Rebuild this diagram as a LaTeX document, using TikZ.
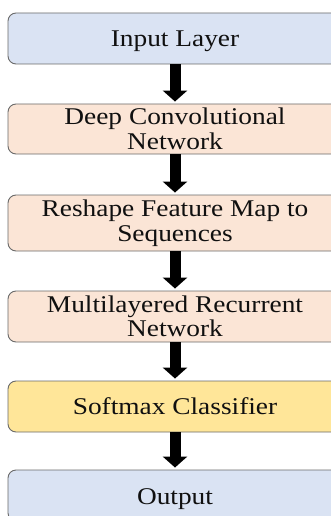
\documentclass[tikz,border=0pt]{standalone}
\usepackage{fontspec}
\newfontfamily\boxfont[FakeStretch=1.14]{Liberation Serif}
\usetikzlibrary{arrows.meta}
\definecolor{boxblue}{HTML}{DAE3F3}
\definecolor{boxpeach}{HTML}{FBE5D6}
\definecolor{boxyellow}{HTML}{FFE699}
\definecolor{boxline}{HTML}{6A6A6A}
\definecolor{txt}{HTML}{101010}
\begin{document}
\begin{tikzpicture}[x=1pt,y=1pt,
  layerbox/.style={draw=boxline, line width=0.9pt, rounded corners=8pt,
    minimum width=334pt, inner sep=0pt, align=center, text=txt,
    font=\boxfont\fontsize{24}{24.5}\selectfont},
  oneline/.style={text height=17pt, text depth=0pt},
  flowarrow/.style={line width=11pt, -{Triangle[width=24pt,length=11pt]}, shorten >=2pt}]
\useasboundingbox (0,0) rectangle (331,-516);
\node[layerbox, oneline, fill=boxblue, minimum height=51pt] (in) at (175,-38.5) {Input Layer};
\node[layerbox, fill=boxpeach, minimum height=50pt] (dcn) at (175,-129) {Deep Convolutional\\Network};
\node[layerbox, fill=boxpeach, minimum height=56pt] (rs) at (175,-223) {Reshape Feature Map to\\Sequences};
\node[layerbox, fill=boxpeach, minimum height=51pt] (mrn) at (175,-316.5) {Multilayered Recurrent\\Network};
\node[layerbox, fill=boxyellow, minimum height=51pt] (sm) at (175,-406.5) {Softmax Classifier};
\node[layerbox, oneline, fill=boxblue, minimum height=51pt] (out) at (175,-495.5) {Output};
\draw[flowarrow] (in.south) -- (dcn.north);
\draw[flowarrow] (dcn.south) -- (rs.north);
\draw[flowarrow] (rs.south) -- (mrn.north);
\draw[flowarrow] (mrn.south) -- (sm.north);
\draw[flowarrow] (sm.south) -- (out.north);
\end{tikzpicture}
\end{document}
